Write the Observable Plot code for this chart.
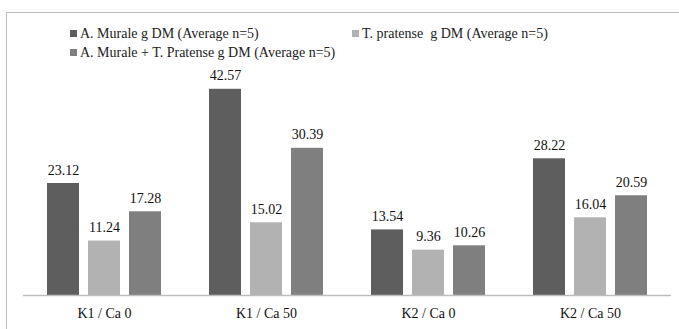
<!DOCTYPE html>
<html>
<head>
<meta charset="utf-8">
<script src="https://cdn.jsdelivr.net/npm/d3@7"></script>
<script src="https://cdn.jsdelivr.net/npm/@observablehq/plot@0.6"></script>
<style>
  body { margin: 0; background: #fff; }
  #wrap { position: relative; width: 679px; height: 329px; overflow: hidden; font-family: 'Times New Roman', Times, serif; }
  #frame { position: absolute; left: 6px; top: 12px; width: 700px; height: 400px; border-top: 1px solid #bdbdbd; border-left: 1px solid #bdbdbd; }
  #chart { position: absolute; left: 0; top: 0; }
  .leg { position: absolute; font-family: 'Times New Roman', Times, serif; font-size: 14px; color: #222; white-space: nowrap; line-height: 14px; }
  .sw { display: inline-block; width: 7px; height: 7px; margin-right: 3px; vertical-align: 1px; }
  svg text { font-family: 'Times New Roman', Times, serif !important; }
</style>
</head>
<body>
<div id="wrap">
  <div id="frame"></div>
  <div id="chart"></div>
  <div id="legend"></div>
</div>
<script>
const categories = ["K1 / Ca 0", "K1 / Ca 50", "K2 / Ca 0", "K2 / Ca 50"];
const seriesNames = [
  "A. Murale g DM (Average n=5)",
  "T. pratense  g DM (Average n=5)",
  "A. Murale + T. Pratense g DM (Average n=5)"
];
const seriesColors = ["#5e5e5e", "#b2b2b2", "#7f7f7f"];
const aMurale = [23.12, 42.57, 13.54, 28.22];
const tPratense = [11.24, 15.02, 9.36, 16.04];
const combined = [17.28, 30.39, 10.26, 20.59];

const seriesValues = [aMurale, tPratense, combined];
const data = [];
categories.forEach((c, i) => {
  seriesNames.forEach((s, j) => {
    data.push({category: c, series: s, value: seriesValues[j][i]});
  });
});

const chart = Plot.plot({
  width: 679,
  height: 329,
  marginLeft: 22,
  marginRight: 8,
  marginTop: 52.8,
  marginBottom: 34,
  style: {fontFamily: "'Times New Roman', Times, serif", background: "transparent", fontSize: "14px"},
  fx: {domain: categories, padding: 0, label: null, axis: "bottom", tickSize: 0, tickPadding: 13},
  x: {domain: seriesNames, paddingInner: 0.22, paddingOuter: 0.585, axis: null},
  y: {domain: [0, 50], axis: null},
  color: {domain: seriesNames, range: seriesColors},
  marks: [
    Plot.barY(data, {fx: "category", x: "series", y: "value", fill: "series"}),
    Plot.text(data, {fx: "category", x: "series", y: "value", text: d => d.value.toFixed(2), lineAnchor: "bottom", dy: -9, fontSize: 14, fill: "#111"}),
    Plot.ruleY([0], {stroke: "#bdbdbd", strokeWidth: 1.5, facetAnchor: null})
  ]
});
chart.querySelectorAll('g[aria-label="fx-axis tick label"]').forEach(el => {
  el.setAttribute("font-size", "14");
  el.setAttribute("fill", "#111");
});
document.getElementById("chart").appendChild(chart);

const legPos = [[70, 27], [352, 27], [70, 46]];
const legend = document.getElementById("legend");
seriesNames.forEach((s, j) => {
  const d = document.createElement("div");
  d.className = "leg";
  d.style.left = legPos[j][0] + "px";
  d.style.top = legPos[j][1] + "px";
  const sw = document.createElement("span");
  sw.className = "sw";
  sw.style.background = seriesColors[j];
  d.appendChild(sw);
  d.appendChild(document.createTextNode(s.replace("  ", "\u00a0 ")));
  legend.appendChild(d);
});
</script>
</body>
</html>
